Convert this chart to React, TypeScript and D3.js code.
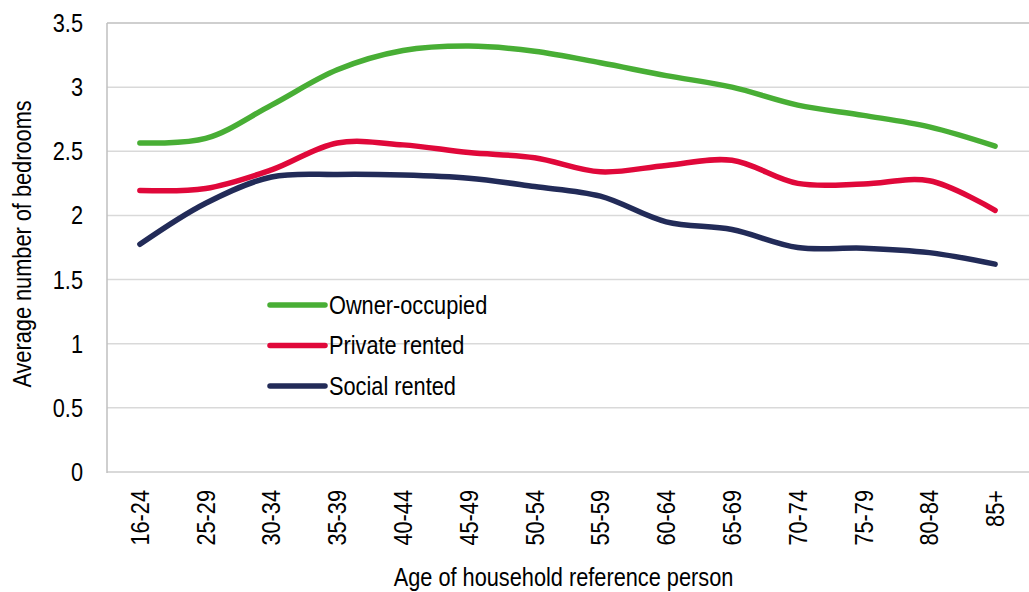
import React from "react";
import * as d3 from "d3";

const categories = ["16-24","25-29","30-34","35-39","40-44","45-49","50-54","55-59","60-64","65-69","70-74","75-79","80-84","85+"];
const ownerOccupied = [2.565, 2.60, 2.86, 3.135, 3.285, 3.32, 3.28, 3.19, 3.09, 3.0, 2.86, 2.78, 2.69, 2.54];
const privateRented = [2.195, 2.21, 2.355, 2.565, 2.55, 2.49, 2.45, 2.34, 2.39, 2.43, 2.25, 2.245, 2.27, 2.04];
const socialRented = [1.775, 2.095, 2.30, 2.32, 2.315, 2.29, 2.225, 2.15, 1.95, 1.89, 1.75, 1.745, 1.71, 1.62];
const yTicks = [0, 0.5, 1, 1.5, 2, 2.5, 3, 3.5];
const seriesNames = ["Owner-occupied", "Private rented", "Social rented"];

const W = 1029, H = 592;
const left = 107, right = 1028, top = 23, bottom = 472;
const FONT = "'Liberation Sans', Arial, sans-serif";
const colors = ["#48AE35", "#E0083A", "#222B58"];
const SX = 0.87;

export default function App() {
  const x = d3.scaleBand<string>().domain(categories).range([left, right]).padding(0);
  const y = d3.scaleLinear().domain([0, 3.5]).range([bottom, top]);
  const cx = (c: string) => (x(c) as number) + x.bandwidth() / 2;
  const series = [ownerOccupied, privateRented, socialRented];
  const line = d3.line<number>()
    .x((_, i) => cx(categories[i]))
    .y((d) => y(d))
    .curve(d3.curveCatmullRom.alpha(0.5));
  const legendY = [305, 345.5, 386];
  return (
    <svg width={W} height={H} style={{ position: "absolute", left: 0, top: 0, background: "#fff" }} fontFamily={FONT}>
      {yTicks.map((t) => (
        <line key={"g" + t} x1={left} x2={W} y1={y(t)} y2={y(t)}
          stroke={t === 3.5 ? "#BFBFBF" : "#D9D9D9"} strokeWidth={t === 0 ? 2 : 1.5} />
      ))}
      <line x1={left} x2={left} y1={top} y2={bottom + 1} stroke="#BFBFBF" strokeWidth={1.5} />
      {yTicks.map((t) => (
        <text key={"t" + t} transform={`translate(83,${y(t)}) scale(${SX},1)`} dy="0.36em" textAnchor="end" fontSize={25} fill="#000">{d3.format("")(t)}</text>
      ))}
      {categories.map((c) => (
        <text key={c} transform={`translate(${cx(c) + 9},490) rotate(-90) scale(${SX},1)`} textAnchor="end" fontSize={25} fill="#000">{c}</text>
      ))}
      {series.map((s, i) => (
        <path key={i} d={line(s) as string} fill="none" stroke={colors[i]} strokeWidth={5.5} strokeLinecap="round" strokeLinejoin="round" />
      ))}
      {seriesNames.map((n, i) => (
        <g key={n}>
          <line x1={270} x2={325} y1={legendY[i]} y2={legendY[i]} stroke={colors[i]} strokeWidth={5.5} strokeLinecap="round" />
          <text transform={`translate(329,${legendY[i] + 8.5}) scale(${SX},1)`} fontSize={25} fill="#000">{n}</text>
        </g>
      ))}
      <text transform={`translate(31,244) rotate(-90) scale(${SX},1)`} textAnchor="middle" fontSize={25} fill="#000">Average number of bedrooms</text>
      <text transform={`translate(563.5,586) scale(${SX},1)`} textAnchor="middle" fontSize={25} fill="#000">Age of household reference person</text>
    </svg>
  );
}
